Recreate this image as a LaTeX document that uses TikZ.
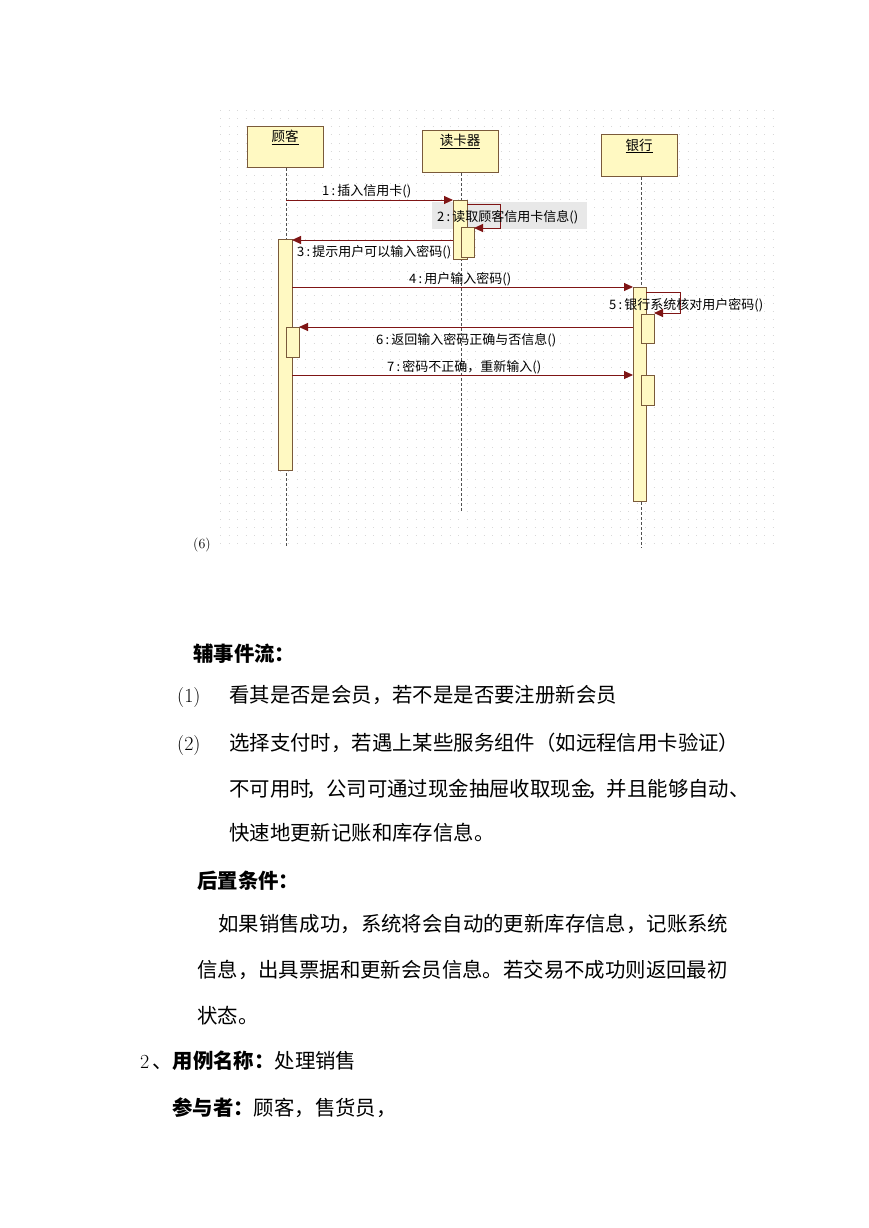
\documentclass[tikz,border=0pt]{standalone}
\usepackage{fontspec}
\newfontfamily\cjk{Noto Sans CJK SC}
\usetikzlibrary{arrows.meta}
\definecolor{boxfill}{HTML}{FFF9C2}
\definecolor{boxline}{HTML}{7A5A3A}
\definecolor{msgc}{HTML}{7F1515}
\definecolor{dotc}{HTML}{D8D8D8}
\definecolor{lifec}{HTML}{505050}
\newcommand{\cl}{\,:\,}
\newcommand{\ncomma}{\kern-4pt，\kern-1pt}
\begin{document}
\begin{tikzpicture}[x=1pt,y=-1pt,
  obj/.style={draw=boxline,fill=boxfill,line width=1.1pt,anchor=north west,inner sep=0pt},
  actbar/.style={draw=boxline,fill=boxfill,line width=0.9pt,anchor=north west,inner sep=0pt},
  life/.style={draw=lifec,line width=1pt,dash pattern=on 3pt off 2pt},
  msgline/.style={draw=msgc,line width=0.9pt,-{Triangle[length=9pt,width=8pt]}},
  selfline/.style={draw=msgc,line width=0.9pt,-{Triangle[length=9pt,width=8pt]}},
  lbl/.style={font=\cjk\fontsize{13}{14}\selectfont,inner sep=0pt,anchor=base west},
  objlbl/.style={font=\cjk\fontsize{13.5}{14}\selectfont,inner sep=0pt,anchor=base},
  body/.style={font=\cjk\fontsize{20.4}{24}\selectfont,inner sep=0pt,anchor=base west},
  num/.style={font=\fontsize{20}{24}\selectfont,inner sep=0pt,anchor=base west},
]
\useasboundingbox (0,0) rectangle (869,1228);
\fill[white] (0,0) rectangle (869,1228);

% dotted grid background
\foreach \yy in {111,119,...,548}
  \draw[dotc,line width=1pt,dash pattern=on 1pt off 7.5pt] (220,\yy) -- (776,\yy);

% object boxes
\node[obj,minimum width=76pt,minimum height=41pt] (cust) at (247,126) {};
\node[obj,minimum width=76pt,minimum height=42pt] (reader) at (422,130) {};
\node[obj,minimum width=76pt,minimum height=42pt] (bank) at (601,134) {};
\node[objlbl] (custl) at (285,142) {\underline{顾客}};
\node[objlbl] (readerl) at (460,146) {\underline{读卡器}};
\node[objlbl] (bankl) at (639,150) {\underline{银行}};

% lifelines
\coordinate (custend) at (286,548);
\coordinate (readerend) at (461,512);
\coordinate (bankend) at (641,548);
\draw[life] (cust.south -| custend) -- (custend);
\draw[life] (reader.south -| readerend) -- (readerend);
\draw[life] (bank.south -| bankend) -- (bankend);

% label 2 background
\fill[gray!18] (432,202) rectangle (587,229);

% activation bars
\node[actbar,minimum width=14pt,minimum height=231pt] (cbar) at (278,239) {};
\node[actbar,minimum width=13pt,minimum height=30pt] (cbar2) at (286,327) {};
\node[actbar,minimum width=14pt,minimum height=59pt] (rbar) at (453,200) {};
\node[actbar,minimum width=13pt,minimum height=30pt] (rbar2) at (461,227) {};
\node[actbar,minimum width=13pt,minimum height=214pt] (bbar) at (633,287) {};
\node[actbar,minimum width=13pt,minimum height=29pt] (bbar2) at (641,314) {};
\node[actbar,minimum width=13pt,minimum height=30pt] (bbar3) at (641,375) {};

% message endpoints
\coordinate (m1s) at (286,200);
\coordinate (m2a) at (467,204);
\coordinate (m2b) at (500,204);
\coordinate (m2c) at (500,228);
\coordinate (m2d) at (474,228);
\coordinate (m3s) at (453,240);
\coordinate (m3e) at (292,240);
\coordinate (m4s) at (292,287);
\coordinate (m5a) at (646,292);
\coordinate (m5b) at (680,292);
\coordinate (m5c) at (680,313);
\coordinate (m5d) at (654,313);
\coordinate (m6s) at (633,327);
\coordinate (m6e) at (299,327);
\coordinate (m7s) at (292,375);

% messages
\draw[msgline] (m1s) -- (m1s -| rbar.west);
\draw[selfline] (m2a) -- (m2b) -- (m2c) -- (m2d);
\draw[msgline] (m3s) -- (m3e);
\draw[msgline] (m4s) -- (m4s -| bbar.west);
\draw[selfline] (m5a) -- (m5b) -- (m5c) -- (m5d);
\draw[msgline] (m6s) -- (m6e);
\draw[msgline] (m7s) -- (m7s -| bbar.west);

% message labels
\node[lbl] (l1) at (322,195) {1\cl 插入信用卡()};
\node[lbl] (l2) at (437,221) {2\cl 读取顾客信用卡信息()};
\node[lbl] (l3) at (297,256) {3\cl 提示用户可以输入密码()};
\node[lbl] (l4) at (409,283) {4\cl 用户输入密码()};
\node[lbl] (l5) at (609,309) {5\cl 银行系统核对用户密码()};
\node[lbl] (l6) at (376,344) {6\cl 返回输入密码正确与否信息()};
\node[lbl] (l7) at (387,371) {7\cl 密码不正确，重新输入()};

% text below
\node[inner sep=0pt,anchor=base west,font=\fontsize{14}{16}\selectfont] (t6) at (193,548) {(6)};
\node[body] (h1) at (193,661) {\textbf{辅事件流：}};
\node[num] (n1) at (177,702) {(1)};
\node[body] (p1) at (229,702) {看其是否是会员，若不是是否要注册新会员};
\node[num] (n2) at (177,750) {(2)};
\node[body] (p2) at (229,750) {选择支付时，若遇上某些服务组件（如远程信用卡验证）};
\node[body] (p3) at (229,796) {不可用时\ncomma 公司可通过现金抽屉收取现金\ncomma 并且能够自动、};
\node[body] (p4) at (229,840) {快速地更新记账和库存信息。};
\node[body] (h2) at (197,888) {\textbf{后置条件：}};
\node[body] (q1) at (218,931) {如果销售成功，系统将会自动的更新库存信息，记账系统};
\node[body] (q2) at (197,977) {信息，出具票据和更新会员信息。若交易不成功则返回最初};
\node[body] (q3) at (197,1023) {状态。};
\node[num] (n3) at (140,1068) {2};
\node[body] (h3) at (152,1068) {、\textbf{用例名称：}处理销售};
\node[body] (h4) at (172,1115) {\textbf{参与者：}顾客，售货员，};
\end{tikzpicture}
\end{document}
